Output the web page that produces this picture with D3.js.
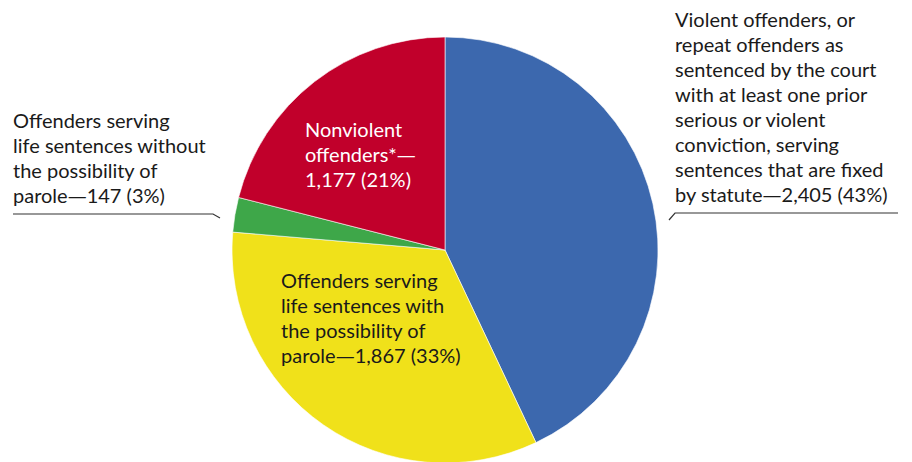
<!DOCTYPE html>
<html>
<head>
<meta charset="utf-8">
<script src="https://cdn.jsdelivr.net/npm/d3@7"></script>
<style>
  body { margin: 0; background: #fff; }
  svg { display: block; font-family: Lato, "Open Sans", sans-serif; }
</style>
</head>
<body>
<svg id="pie_chart" width="912" height="462"></svg>
<script>
// slice data, clockwise from 12 o'clock
const categories = ["violent", "lifeWithParole", "lifeWithoutParole", "nonviolent"];
const counts = [2405, 1867, 147, 1177];
const colors = ["#3c68ae", "#f0e11a", "#3ea749", "#c1002b"];

const labelLines = {
    violent: ["Violent offenders, or", "repeat offenders as", "sentenced by the court",
              "with at least one prior", "serious or violent", "conviction, serving",
              "sentences that are fixed", "by statute\u20142,405 (43%)"],
    lifeWithParole: ["Offenders serving", "life sentences with", "the possibility of",
                     "parole\u20141,867 (33%)"],
    lifeWithoutParole: ["Offenders serving", "life sentences without", "the possibility of",
                        "parole\u2014147 (3%)"],
    nonviolent: ["Nonviolent", "offenders*\u2014", "1,177 (21%)"]
};

const svg = d3.select("#pie_chart");
const cx = 445, cy = 250, radius = 213;
const lineHeight = 25;

const pie = d3.pie().sort(null).value(d => d.count);
const arc = d3.arc().innerRadius(0).outerRadius(radius);

const data = categories.map((c, i) => ({ key: c, count: counts[i], color: colors[i] }));

const g = svg.append("g").attr("transform", `translate(${cx},${cy})`);

g.selectAll("path")
    .data(pie(data))
    .join("path")
    .attr("d", arc)
    .attr("fill", d => d.data.color)
    .attr("stroke", "#fff")
    .attr("stroke-width", 0.6);

// label placement (relative to the page), anchor = first baseline
const labels = [
    { key: "violent", x: 675, y: 27, fill: "#1a1a1a" },
    { key: "lifeWithParole", x: 281, y: 288, fill: "#1a1a1a" },
    { key: "lifeWithoutParole", x: 13, y: 128, fill: "#1a1a1a" },
    { key: "nonviolent", x: 305, y: 137, fill: "#fff" }
];

labels.forEach(l => {
    const t = svg.append("text")
        .attr("x", l.x)
        .attr("y", l.y)
        .attr("fill", l.fill)
        .style("font-size", "20px");
    const lines = t.selectAll("tspan.line")
        .data(labelLines[l.key])
        .join("tspan")
        .attr("class", "line")
        .attr("x", l.x)
        .attr("dy", (d, i) => i === 0 ? 0 : lineHeight);
    // split around the em dash so it can use a wider glyph
    lines.each(function(d) {
        const parts = d.split("\u2014");
        const sel = d3.select(this);
        parts.forEach((p, i) => {
            if (i > 0) {
                sel.append("tspan")
                    .style("font-family", "'DejaVu Sans'")
                    .style("font-size", "19px")
                    .text("\u2014");
            }
            if (p) sel.append("tspan").text(p);
        });
    });
});

// leader lines under the outside labels
const leaders = [
    [[898, 213], [675, 213], [669, 220]],
    [[13, 214], [213, 214], [220, 218]]
];
svg.selectAll("path.leader")
    .data(leaders)
    .join("path")
    .attr("class", "leader")
    .attr("d", d3.line())
    .attr("fill", "none")
    .attr("stroke", "#333")
    .attr("stroke-width", 1.2);
</script>
</body>
</html>
